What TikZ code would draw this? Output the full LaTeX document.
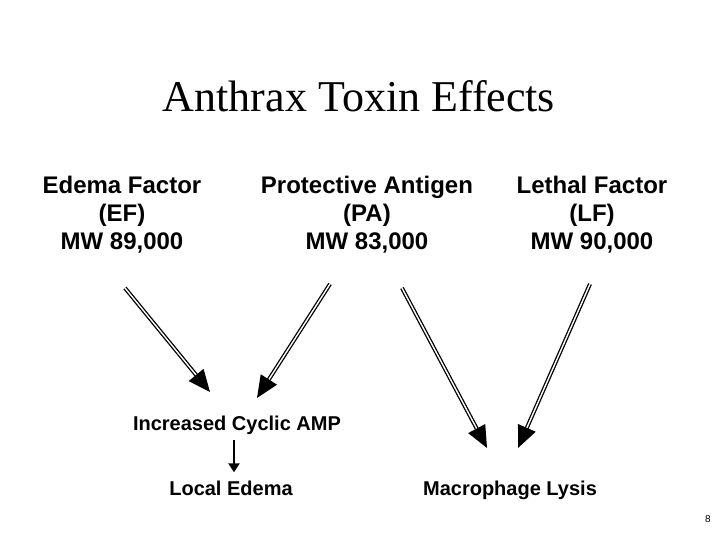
\documentclass[tikz,border=0pt]{standalone}
\usepackage{fontspec}
\setmainfont{Liberation Serif}
\setsansfont{Liberation Sans}
\usetikzlibrary{positioning, arrows.meta}

\begin{document}
\begin{tikzpicture}[
        x=1pt, y=-1pt,
        title/.style = {font=\fontsize{44}{50}\selectfont, inner sep=0pt, anchor=base},
        factor/.style = {font=\sffamily\bfseries\fontsize{24}{28}\selectfont, align=center, inner sep=0pt, anchor=north},
        effect/.style = {font=\sffamily\bfseries\fontsize{20}{24}\selectfont, inner sep=0pt, anchor=base},
        bigarrow/.style = {draw=black, line width=1.3pt, double=white, double distance=1.4pt,
                           -{Triangle[length=22pt,width=19pt]}},
        smallarrow/.style = {line width=2.8pt, -{Triangle[length=9pt,width=11pt]}}
                        ]
\useasboundingbox (0,0) rectangle (720,540);
\node (title)[title] at (359,112) {Anthrax Toxin Effects};
\node (ef)[factor] at (122,176) {Edema Factor\\(EF)\\MW 89,000};
\node (pa)[factor] at (367,176) {Protective Antigen\\(PA)\\MW 83,000};
\node (lf)[factor] at (592,176) {Lethal Factor\\(LF)\\MW 90,000};
\node (camp)[effect] at (237,430) {Increased Cyclic AMP};
\node (edema)[effect] at (231,495) {Local Edema};
\node (lysis)[effect] at (510,495) {Macrophage Lysis};
\node (page)[font=\sffamily\fontsize{10}{12}\selectfont, inner sep=0pt, anchor=base] at (708,522) {8};
% arrow ends
\coordinate (ef-a) at (125,288);
\coordinate (ef-b) at (210,392);
\coordinate (pa-a) at (330,284);
\coordinate (pa-b) at (257,398);
\coordinate (pa-c) at (402,288);
\coordinate (pa-d) at (487,448);
\coordinate (lf-a) at (590,284);
\coordinate (lf-b) at (518,448);
\draw[bigarrow] (ef-a) to (ef-b);
\draw[bigarrow] (pa-a) to (pa-b);
\draw[bigarrow] (pa-c) to (pa-d);
\draw[bigarrow] (lf-a) to (lf-b);
\draw[smallarrow, shorten >=8pt] ([yshift=-6pt]camp.south -| 234,0) to (edema.north -| 234,0);
\end{tikzpicture}
\end{document}
